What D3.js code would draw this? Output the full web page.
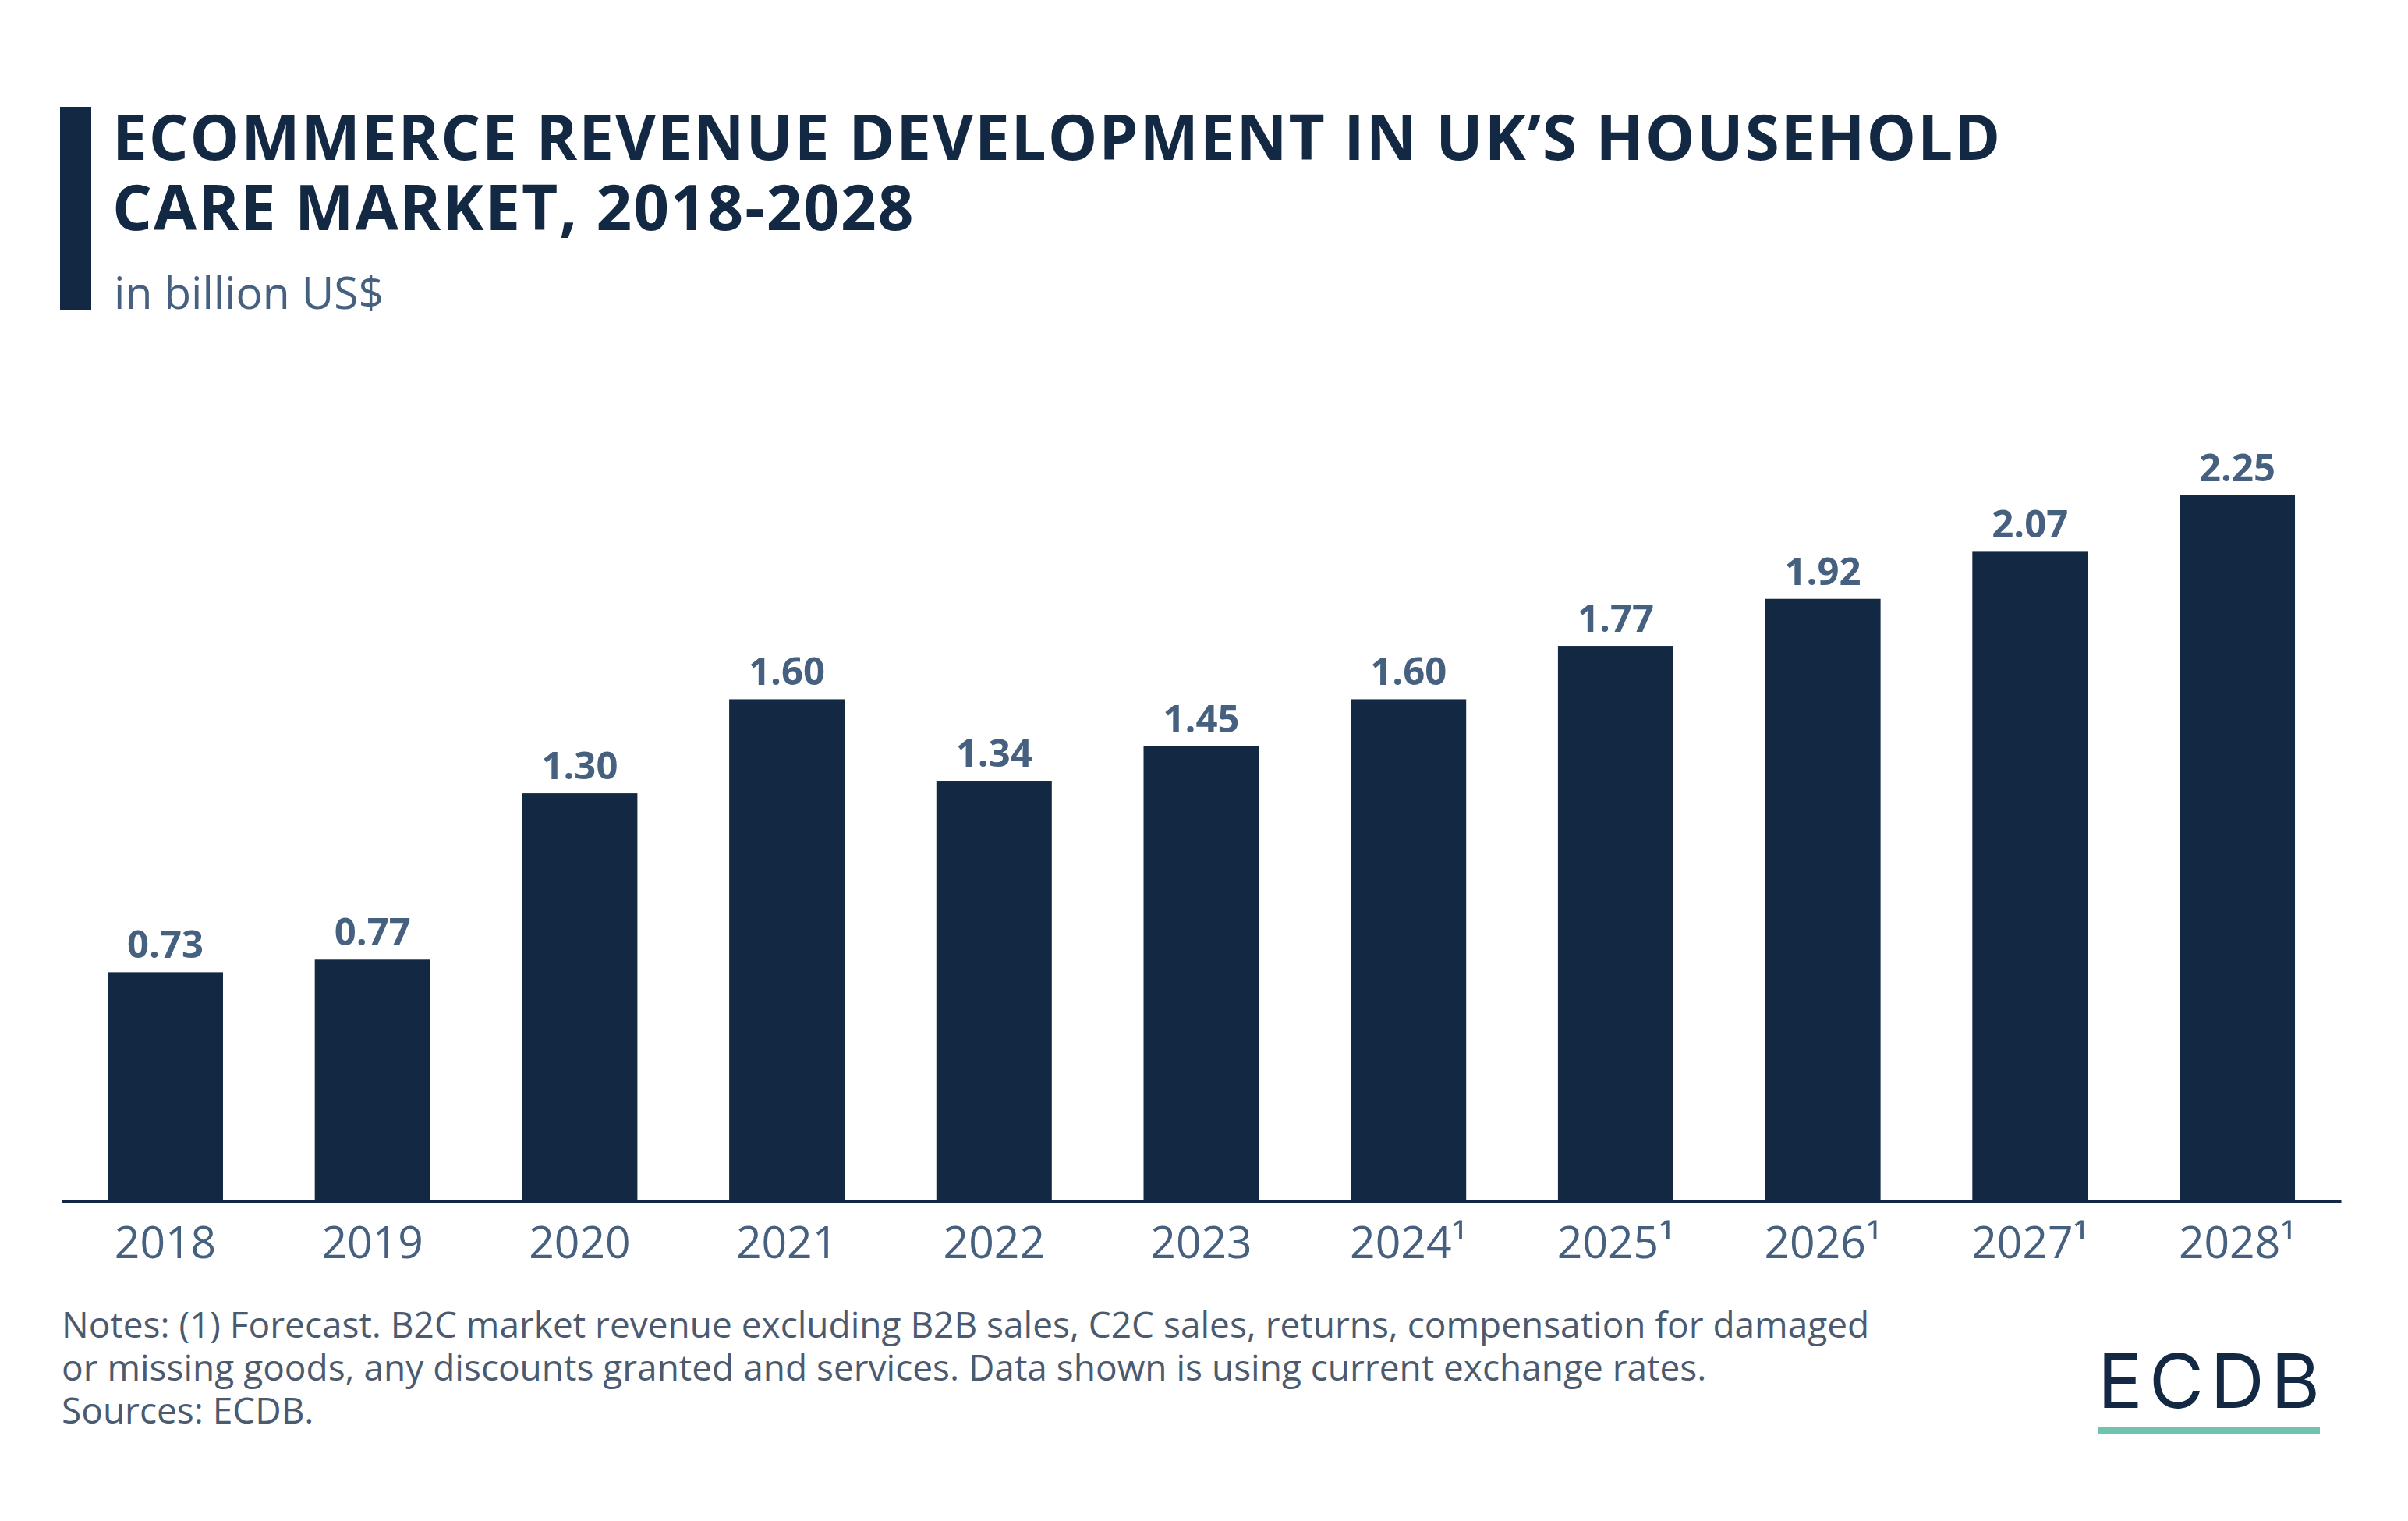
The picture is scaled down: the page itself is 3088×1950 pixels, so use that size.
<!DOCTYPE html>
<html>
<head>
<meta charset="utf-8">
<script src="https://cdn.jsdelivr.net/npm/d3@7"></script>
<style>
  html, body { margin: 0; padding: 0; background: #ffffff; }
  svg { display: block; }
</style>
</head>
<body>
<script>
// ---- data ----
const years = ["2018", "2019", "2020", "2021", "2022", "2023", "2024", "2025", "2026", "2027", "2028"];
const forecast = [false, false, false, false, false, false, true, true, true, true, true];
const values = [0.73, 0.77, 1.30, 1.60, 1.34, 1.45, 1.60, 1.77, 1.92, 2.07, 2.25];
const titleLines = ["ECOMMERCE REVENUE DEVELOPMENT IN UK\u2019S HOUSEHOLD", "CARE MARKET, 2018-2028"];
const subtitle = "in billion US$";
const notes = [
  "Notes: (1) Forecast. B2C market revenue excluding B2B sales, C2C sales, returns, compensation for damaged",
  "or missing goods, any discounts granted and services. Data shown is using current exchange rates.",
  "Sources: ECDB."
];

const W = 3088, H = 1950;
const navy = "#132842";
const slate = "#46607f";

const svg = d3.select("body").append("svg").attr("width", W).attr("height", H);
svg.append("rect").attr("width", W).attr("height", H).attr("fill", "#fff");

// title block
svg.append("rect").attr("x", 77).attr("y", 137).attr("width", 40).attr("height", 260).attr("fill", navy);
const title = svg.append("text").attr("font-family", "'Open Sans', sans-serif").attr("font-weight", 700)
  .attr("font-size", 80).attr("letter-spacing", 1.9).attr("fill", navy);
titleLines.forEach((t, i) => title.append("tspan").attr("x", 144).attr("y", 205 + i * 90).text(t));
svg.append("text").attr("x", 146).attr("y", 396).attr("font-family", "'Open Sans', sans-serif")
  .attr("font-size", 57).attr("fill", slate).text(subtitle);

// scales
const x = d3.scaleBand().domain(years).range([79, 3002]).paddingInner(0.443).paddingOuter(0.222);
const y = d3.scaleLinear().domain([0, 2.25]).range([1540, 635]);

// bars
svg.append("g").selectAll("rect").data(values).join("rect")
  .attr("x", (d, i) => x(years[i]))
  .attr("y", d => y(d))
  .attr("width", x.bandwidth())
  .attr("height", d => y(0) - y(d))
  .attr("fill", navy);

// value labels
svg.append("g").selectAll("text").data(values).join("text")
  .attr("x", (d, i) => x(years[i]) + x.bandwidth() / 2)
  .attr("y", d => y(d) - 18)
  .attr("text-anchor", "middle")
  .attr("font-family", "'Open Sans', sans-serif").attr("font-weight", 700)
  .attr("font-size", 49).attr("fill", slate)
  .text(d => d.toFixed(2));

// axis
const axis = d3.axisBottom(x).tickSize(0).tickSizeOuter(0).tickPadding(33)
  .tickFormat((d, i) => d + (forecast[i] ? "\u00B9" : ""));
const gx = svg.append("g").attr("transform", `translate(0,${y(0)})`).call(axis);
gx.select(".domain").attr("stroke", navy).attr("stroke-width", 3);
gx.selectAll("text").attr("font-family", "'Open Sans', sans-serif").attr("font-size", 57).attr("fill", slate);

// notes
const nt = svg.append("text").attr("font-family", "'Open Sans', sans-serif").attr("font-size", 46).attr("fill", "#4b5a6e");
notes.forEach((t, i) => nt.append("tspan").attr("x", 79).attr("y", 1715 + i * 55).text(t));

// logo
svg.append("text").attr("x", 2690).attr("y", 1805).attr("font-family", "Inter, sans-serif").attr("font-weight", 400)
  .attr("font-size", 96).attr("fill", navy).attr("textLength", 285).attr("lengthAdjust", "spacing").text("ECDB");
svg.append("rect").attr("x", 2690).attr("y", 1830).attr("width", 285).attr("height", 8).attr("fill", "#6fc3b0");
</script>
</body>
</html>
